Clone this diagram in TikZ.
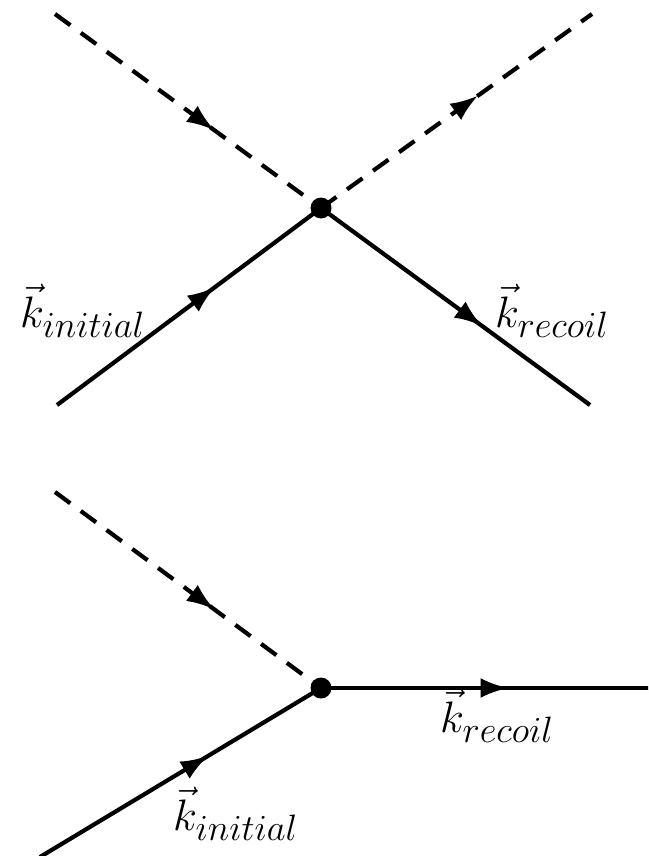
\documentclass[tikz,border=0pt]{standalone}
\usetikzlibrary{arrows.meta,decorations.markings}
\newcommand{\biglab}[1]{\scalebox{1.77}{\Huge #1}}
\begin{document}
\begin{tikzpicture}[x=1pt,y=-1pt,
  line/.style={line width=4.2pt},
  ph/.style={line width=4.2pt, dash pattern=on 19pt off 13pt},
  midarrow/.style={decoration={markings,mark=at position #1 with {\arrow{Latex[length=28pt,width=20pt]}}},postaction={decorate}},
  dot/.style={circle,fill,inner sep=0pt,minimum size=21pt},
  lab/.style={anchor=base west,inner sep=0pt}]
\useasboundingbox (0,0) rectangle (648,856);
\begin{scope}
\clip (0,0) rectangle (648,856);
% top diagram
\coordinate (v1) at (321,208);
\coordinate (a1) at (55,14);
\coordinate (b1) at (592,14);
\coordinate (c1) at (57,405);
\coordinate (d1) at (590,405);
\draw[ph,midarrow=0.6] (a1) -- (v1);
\draw[ph,midarrow=0.58] (v1) -- (b1);
\draw[line,midarrow=0.6] (c1) -- (v1);
\draw[line,midarrow=0.6] (v1) -- (d1);
\node[dot] (v1dot) at (v1) {};
\node[lab] (ki1) at (20,327) {\biglab{$\vec{k}_{initial}$}};
\node[lab] (kr1) at (495,327) {\biglab{$\vec{k}_{recoil}$}};
% bottom diagram
\coordinate (v2) at (321,688);
\coordinate (a2) at (55,492);
\coordinate (c2) at (40,857);
\coordinate (d2) at (650,688);
\draw[ph,midarrow=0.6] (a2) -- (v2);
\draw[line,midarrow=0.6] (c2) -- (v2);
\draw[line,midarrow=0.57] (v2) -- (d2);
\node[dot] (v2dot) at (v2) {};
\node[lab] (ki2) at (173,830) {\biglab{$\vec{k}_{initial}$}};
\node[lab] (kr2) at (440,732) {\biglab{$\vec{k}_{recoil}$}};
\end{scope}
\end{tikzpicture}
\end{document}
